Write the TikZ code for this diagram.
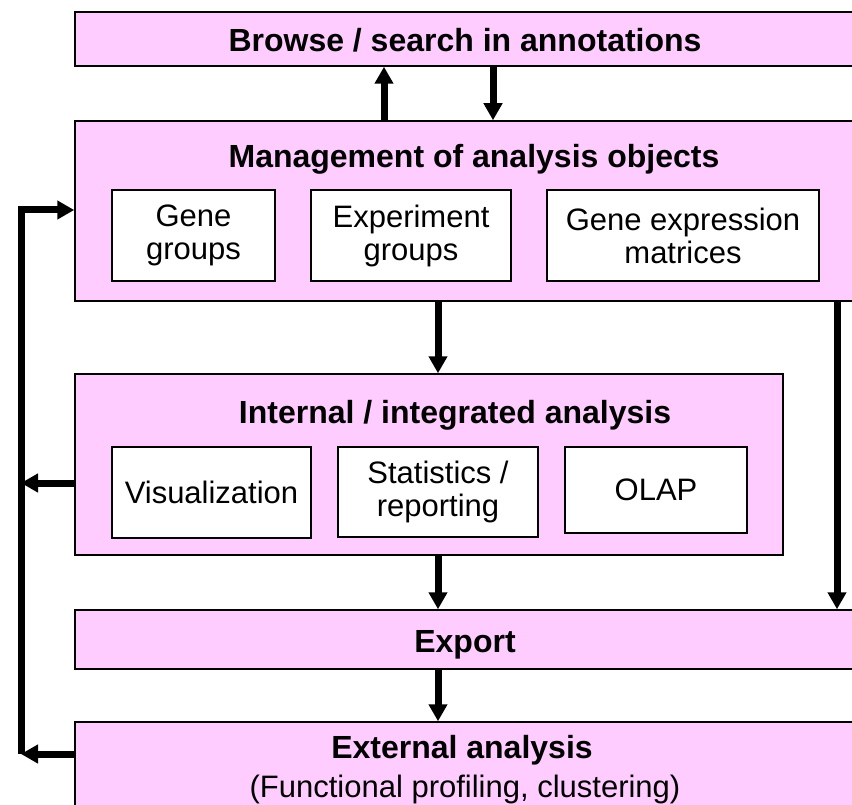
\documentclass[tikz,border=0pt]{standalone}
\usepackage{fontspec}
\setmainfont{Liberation Sans}
\usetikzlibrary{arrows.meta}

\definecolor{boxpink}{HTML}{FFCCFF}

\tikzset{
  panel/.style={draw, line width=1.5pt, fill=boxpink, inner sep=0pt},
  item/.style={draw, line width=1.5pt, fill=white, inner sep=0pt, align=center, font=\fontsize{31}{33}\selectfont},
  title/.style={font=\fontsize{32}{35}\selectfont\bfseries, anchor=base},
  arr/.style={line width=7pt, -{Triangle[width=18pt,length=17pt]}}
}

\begin{document}
\begin{tikzpicture}[x=1pt, y=-1pt]

\useasboundingbox (0,0) rectangle (852,805);

\pgfmathsetmacro\midx{438}
\pgfmathsetmacro\loopx{21}

\node[panel, minimum width=778pt, minimum height=54pt] (browse) at (464, 39) {};
\node[title] (browse_title) at (465, 52) {Browse / search in annotations};

\node[panel, minimum width=778pt, minimum height=180pt] (management) at (464, 211) {};
\node[title] (management_title) at (474, 168) {Management of analysis objects};

\node[item, minimum width=163pt, minimum height=91pt] (gene_groups) at (193.5, 235.5) {Gene\\groups};
\node[item, minimum width=200pt, minimum height=91pt] (experiment_groups) at (411, 235.5) {Experiment\\groups};
\node[item, minimum width=272pt, minimum height=91pt] (expression_matrices) at (683, 235.5) {Gene expression\\matrices};

\node[panel, minimum width=708pt, minimum height=181pt] (internal) at (429, 464.5) {};
\node[title] (internal_title) at (455, 423) {Internal / integrated analysis};

\node[item, minimum width=199pt, minimum height=91pt] (visualization) at (211.5, 492.5) {Visualization};
\node[item, minimum width=200pt, minimum height=90pt] (statistics) at (438, 492) {Statistics /\\reporting};
\node[item, minimum width=182pt, minimum height=86pt] (olap) at (656, 490) {OLAP};

\node[panel, minimum width=778pt, minimum height=59pt] (export) at (464, 639.5) {};
\node[title] (export_title) at (465, 652) {Export};

\node[panel, minimum width=778pt, minimum height=90pt] (external) at (464, 767) {};
\node[title] (external_title) at (462, 758) {External analysis};
\node[font=\fontsize{31}{33}\selectfont, anchor=base] (external_note) at (465, 797) {(Functional profiling, clustering)};

% arrows between the panels
\coordinate (up_x) at (384, 0);
\coordinate (down_x) at (493, 0);
\coordinate (mid_x) at (\midx, 0);
\coordinate (right_x) at (837, 0);

\draw[arr] (up_x |- management.north) -- (up_x |- browse.south);
\draw[arr] (down_x |- browse.south) -- (down_x |- management.north);
\draw[arr] (mid_x |- management.south) -- (mid_x |- internal.north);
\draw[arr] (mid_x |- internal.south) -- (mid_x |- export.north);
\draw[arr] (right_x |- management.south) -- (right_x |- export.north);
\draw[arr] (mid_x |- export.south) -- (mid_x |- external.north);

% feedback loop on the left
\coordinate (loop_top) at (\loopx, 210);
\coordinate (loop_mid) at (\loopx, 483);
\coordinate (loop_bottom) at (\loopx, 754);

\draw[arr] (internal.west |- loop_mid) -- (loop_mid);
\draw[arr] (external.west |- loop_bottom) -- (loop_bottom);
\draw[arr] (loop_bottom) -- (loop_top) -- (management.west |- loop_top);

\end{tikzpicture}
\end{document}
